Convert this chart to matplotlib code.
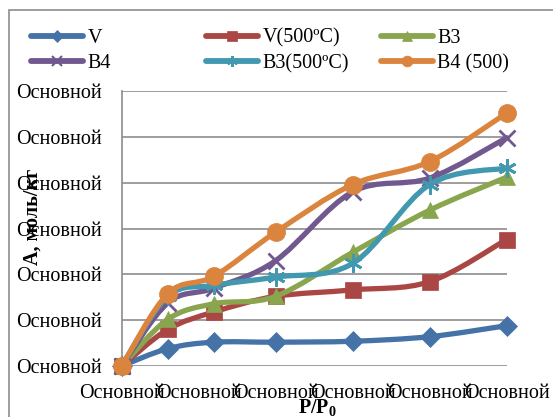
import matplotlib
matplotlib.use("Agg")
import matplotlib.pyplot as plt
from matplotlib.path import Path
from matplotlib.patches import PathPatch, Rectangle
from matplotlib.lines import Line2D

plt.rcParams['font.family'] = ['Liberation Serif', 'DejaVu Serif']
plt.rcParams['mathtext.fontset'] = 'custom'
plt.rcParams['mathtext.rm'] = 'Liberation Serif'
plt.rcParams['mathtext.bf'] = 'Liberation Serif:bold'

# Relative pressure and adsorption values for each sample
p_rel = [0.0, 0.12, 0.24, 0.40, 0.60, 0.80, 1.00]
a_V = [0.0, 0.19, 0.26, 0.26, 0.27, 0.32, 0.44]
a_V500 = [0.0, 0.40, 0.59, 0.76, 0.83, 0.92, 1.38]
a_B3 = [0.0, 0.51, 0.68, 0.76, 1.24, 1.70, 2.06]
a_B4 = [0.0, 0.69, 0.85, 1.15, 1.90, 2.05, 2.49]
a_B3_500 = [0.0, 0.76, 0.88, 0.97, 1.12, 1.98, 2.16]
a_B4_500 = [0.0, 0.79, 0.98, 1.46, 1.98, 2.23, 2.76]

labels = ['V', 'V(500ºC)', 'B3', 'B4', 'B3(500ºC)', 'B4 (500)']
x_ticks = [0.0, 0.2, 0.4, 0.6, 0.8, 1.0]
y_ticks = [0.0, 0.5, 1.0, 1.5, 2.0, 2.5, 3.0]
tick_text = 'Основной'

series = [a_V, a_V500, a_B3, a_B4, a_B3_500, a_B4_500]
colors = ['#4572A7', '#AA4643', '#89A54E', '#71588F', '#4198AF', '#DB843D']
markers = ['D', 's', '^', 'x', (6, 2, 0), 'o']
msizes = [10, 11, 12, 11, 13, 13]

W, H = 553, 417
fig = plt.figure(figsize=(W / 100, H / 100), dpi=100)
ax = fig.add_axes([121.7 / W, 1 - 366 / H, (506.7 - 121.7) / W, (366 - 91) / H])

# outer chart frame
fig.patches.append(Rectangle((9 / W, -0.1), 1.2, 1 - 10 / H + 0.1,
                             transform=fig.transFigure, fill=False,
                             edgecolor='#8c8c8c', lw=1.2, zorder=0))


def smooth_path(xs, ys):
    """Cubic Bezier path through the points (Catmull-Rom style smoothing)."""
    n = len(xs)
    verts = [(xs[0], ys[0])]
    codes = [Path.MOVETO]
    for i in range(n - 1):
        x0, y0 = (xs[i - 1], ys[i - 1]) if i > 0 else (xs[i], ys[i])
        x1, y1 = xs[i], ys[i]
        x2, y2 = xs[i + 1], ys[i + 1]
        x3, y3 = (xs[i + 2], ys[i + 2]) if i + 2 < n else (x2, y2)
        c1 = (x1 + (x2 - x0) / 6, y1 + (y2 - y0) / 6)
        c2 = (x2 - (x3 - x1) / 6, y2 - (y3 - y1) / 6)
        verts += [c1, c2, (x2, y2)]
        codes += [Path.CURVE4] * 3
    return Path(verts, codes)


for k, (ys, c, m, ms) in enumerate(zip(series, colors, markers, msizes)):
    patch = PathPatch(smooth_path(p_rel, ys), fill=False, edgecolor=c,
                      lw=3.8, capstyle='round', joinstyle='round',
                      zorder=3 + k, clip_on=False)
    ax.add_patch(patch)
    mew = 2.0 if m in ('x', (6, 2, 0)) else 0.5
    ax.plot(p_rel, ys, linestyle='none', marker=m, ms=ms, color=c,
            mec=c, mew=mew, zorder=3 + k + 0.5, clip_on=False)

ax.set_xlim(0, 1)
ax.set_ylim(0, 3)
ax.set_xticks(x_ticks)
ax.set_yticks(y_ticks)
ax.set_xticklabels([tick_text] * len(x_ticks), fontsize=14.5)
ax.set_yticklabels([tick_text] * len(y_ticks), fontsize=14.5)
ax.tick_params(axis='both', length=0)
ax.tick_params(axis='x', pad=13)
ax.tick_params(axis='y', pad=14)
ax.grid(axis='y', color='#8c8c8c', lw=1.2)
ax.set_axisbelow(True)
for s in ('top', 'right', 'bottom'):
    ax.spines[s].set_visible(False)
ax.spines['left'].set_color('#8c8c8c')
ax.spines['left'].set_linewidth(1.2)

fig.text(33 / W, 1 - 217 / H, 'A, моль/кг', rotation=90, fontsize=14.5,
         fontweight='bold', ha='center', va='center')
fig.text(317 / W, 1 - 414 / H, r'P/P$_{\mathbf{0}}$', fontsize=14.5,
         fontweight='bold', ha='center', va='baseline')

# legend: three columns of two entries each
handles = [Line2D([], [], color=c, lw=4.2, marker=m, ms=ms * 0.6,
                  solid_capstyle='round',
                  mew=(1.5 if m in ('x', (6, 2, 0)) else 0.5), mec=c)
           for c, m, ms in zip(colors, markers, msizes)]
col_x = [31, 206, 381]
for j in range(3):
    lg = fig.legend([handles[j], handles[j + 3]], [labels[j], labels[j + 3]],
                    loc='center left', bbox_to_anchor=(col_x[j] / W, 1 - 51 / H),
                    frameon=False, fontsize=14.5, handlelength=2.6,
                    handletextpad=0.2, borderpad=0, borderaxespad=0,
                    labelspacing=0.32)

fig.savefig('out.png', dpi=100)
